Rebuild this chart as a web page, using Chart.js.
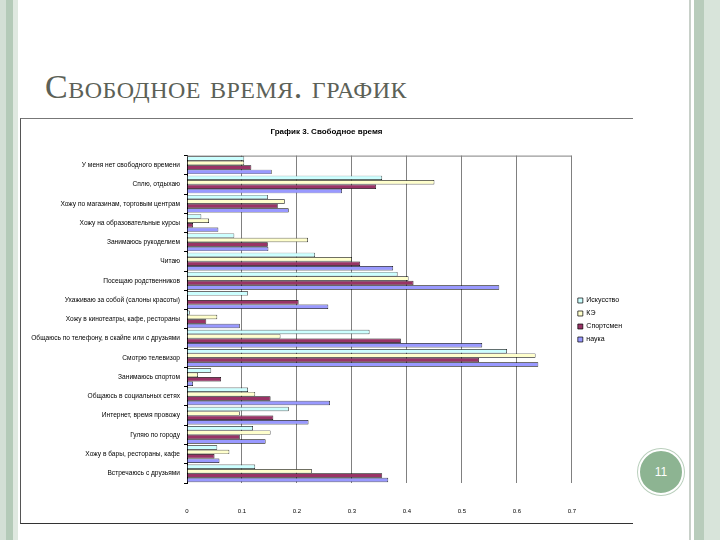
<!DOCTYPE html>
<html>
<head>
<meta charset="utf-8">
<script src="https://cdn.jsdelivr.net/npm/chart.js@4.4.1/dist/chart.umd.min.js"></script>
<style>
  html,body{margin:0;padding:0;background:#fff;}
  #slide{position:relative;width:720px;height:540px;overflow:hidden;background:#fff;}
  .strip{position:absolute;top:0;height:540px;}
  #title{position:absolute;left:45px;top:68px;font-family:"Liberation Serif","DejaVu Serif",serif;font-variant:small-caps;font-size:34px;color:#5c6157;letter-spacing:0.5px;white-space:nowrap;}
  #frame{position:absolute;left:20px;top:118px;width:612px;height:404px;border-top:1px solid #777;border-left:1px solid #555;border-bottom:1px solid #333;}
  #cwrap{position:absolute;left:21px;top:119px;width:611px;height:402px;}
  #num{position:absolute;left:638px;top:449px;width:42px;height:42px;border-radius:50%;background:#8db492;border:2px solid #fff;box-shadow:0 0 0 1px #b9cfbc;color:#fff;font-family:"Liberation Sans",Arial,sans-serif;font-size:12px;line-height:42px;text-align:center;}
</style>
</head>
<body>
<div id="slide">
  <div class="strip" style="left:0;width:6px;background:#d3dfd5;"></div>
  <div class="strip" style="left:6px;width:7px;background:#b4cab8;"></div>
  <div class="strip" style="left:13px;width:5px;background:#dfe8e0;"></div>
  <div class="strip" style="left:689px;width:2px;background:#c8d0c9;"></div>
  <div class="strip" style="left:694px;width:10px;background:#b8ccbb;"></div>
  <div class="strip" style="left:704px;width:16px;background:#d8e4da;"></div>
  <div id="title">Свободное время. график</div>
  <div id="frame"></div>
  <div id="cwrap"><canvas id="c" width="611" height="402"></canvas></div>
  <div id="num">11</div>
</div>
<script>
const categories = [
  "У меня нет свободного времени",
  "Сплю, отдыхаю",
  "Хожу по магазинам, торговым центрам",
  "Хожу на образовательные курсы",
  "Занимаюсь рукоделием",
  "Читаю",
  "Посещаю родственников",
  "Ухаживаю за собой (салоны красоты)",
  "Хожу в кинотеатры, кафе, рестораны",
  "Общаюсь по телефону, в скайпе или с друзьями",
  "Смотрю телевизор",
  "Занимаюсь спортом",
  "Общаюсь в социальных сетях",
  "Интернет, время провожу",
  "Гуляю по городу",
  "Хожу в бары, рестораны, кафе",
  "Встречаюсь с друзьями"
];
const seriesNames = ["Искусство", "КЭ", "Спортсмен", "наука"];
const series1 = [0.104, 0.355, 0.147, 0.026, 0.086, 0.233, 0.383, 0.111, 0.005, 0.332, 0.582, 0.044, 0.111, 0.185, 0.12, 0.055, 0.124];
const series2 = [0.104, 0.450, 0.178, 0.040, 0.220, 0.300, 0.403, 0.000, 0.055, 0.170, 0.634, 0.020, 0.124, 0.096, 0.152, 0.077, 0.227];
const series3 = [0.117, 0.344, 0.165, 0.011, 0.147, 0.315, 0.412, 0.203, 0.035, 0.389, 0.531, 0.062, 0.152, 0.157, 0.096, 0.050, 0.355];
const series4 = [0.154, 0.282, 0.185, 0.057, 0.148, 0.375, 0.568, 0.257, 0.096, 0.537, 0.639, 0.011, 0.260, 0.221, 0.143, 0.059, 0.366];
const xTicks = [0, 0.1, 0.2, 0.3, 0.4, 0.5, 0.6, 0.7];
const colors = ["#CCFFFF", "#FFFFCC", "#993366", "#9999FF"];

const frameBorder = {
  id: 'frameBorder',
  afterDatasetsDraw(chart) {
    const {ctx, chartArea: a} = chart;
    ctx.save();
    ctx.strokeStyle = '#808080';
    ctx.lineWidth = 1;
    ctx.beginPath();
    ctx.moveTo(a.left, a.top + 0.5);
    ctx.lineTo(a.right, a.top + 0.5);
    ctx.stroke();
    ctx.restore();
  }
};

const data = [series1, series2, series3, series4];
new Chart(document.getElementById('c'), {
  type: 'bar',
  data: {
    labels: categories,
    datasets: data.map((d, i) => ({
      label: seriesNames[i],
      data: d,
      backgroundColor: colors[i],
      borderColor: '#000',
      borderWidth: 0.7,
      categoryPercentage: 0.92,
      barPercentage: 1.0
    }))
  },
  options: {
    indexAxis: 'y',
    responsive: false,
    animation: false,
    devicePixelRatio: 1,
    layout: { padding: { left: 0, right: 0, top: 0, bottom: 0 } },
    plugins: {
      title: {
        display: true,
        text: 'График 3. Свободное время',
        color: '#000',
        font: { family: 'Liberation Sans, Arial, sans-serif', size: 8, weight: 'bold' },
        padding: { top: 8, bottom: 19 }
      },
      legend: {
        position: 'right',
        align: 'center',
        labels: {
          boxWidth: 5, boxHeight: 5, padding: 6,
          color: '#000',
          font: { family: 'Liberation Sans, Arial, sans-serif', size: 7 }
        }
      },
      tooltip: { enabled: false }
    },
    scales: {
      x: {
        min: 0, max: 0.7,
        afterBuildTicks(axis) { axis.ticks = xTicks.map(v => ({ value: v })); },
        afterFit(axis) { axis.height = 38; },
        ticks: {
          color: '#000',
          padding: 25,
          maxRotation: 0,
          font: { family: 'Liberation Sans, Arial, sans-serif', size: 6 },
          callback: v => String(Math.round(v * 10) / 10)
        },
        grid: { color: '#808080', lineWidth: 1, drawTicks: false },
        border: { display: false }
      },
      y: {
        afterFit(axis) { axis.width = 166; },
        ticks: {
          color: '#000',
          padding: 4,
          autoSkip: false,
          font: { family: 'Liberation Sans, Arial, sans-serif', size: 6.6 }
        },
        grid: { drawOnChartArea: false, drawTicks: true, tickLength: 3, color: '#000' },
        border: { display: true, color: '#000', width: 1 }
      }
    }
  },
  plugins: [frameBorder]
});
</script>
</body>
</html>
